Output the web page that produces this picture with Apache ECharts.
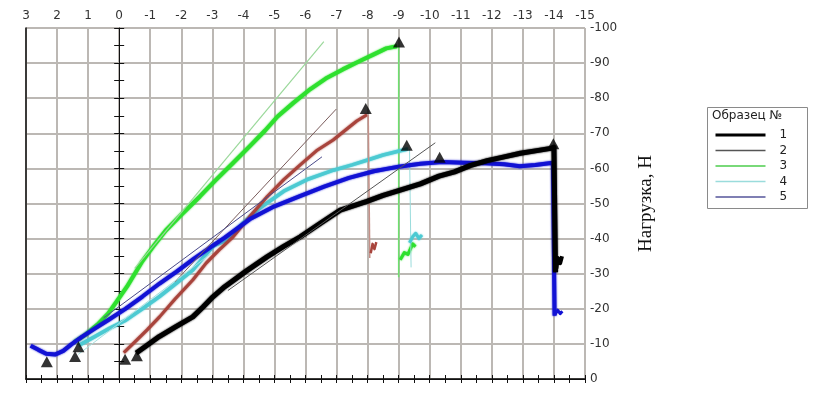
<!DOCTYPE html>
<html><head><meta charset="utf-8">
<script src="https://cdn.jsdelivr.net/npm/echarts@6/dist/echarts.min.js"></script>
<style>html,body{margin:0;padding:0;background:#fff}#c{width:817px;height:396px}</style>
</head><body><div id="c"></div>
<script>
// Axis ticks
const xTicksMin = -15, xTicksMax = 3;
const yTicksMin = -100, yTicksMax = 0;
const legendNames = ['1', '2', '3', '4', '5'];
const legendTitle = 'Образец №';
const yAxisTitle = 'Нагрузка, Н';

// Sample 1 (black)
const s1Rise = [[-0.55,-7.4],[-0.9,-9.6],[-1.29,-12.1],[-1.8,-14.8],[-2.37,-17.7],[-2.7,-20.5],[-3.02,-23.4],[-3.4,-26.3],[-4.1,-30.8],[-4.76,-34.8],[-5.3,-37.8],[-5.83,-40.5],[-6.5,-44.5],[-7.12,-48.1],[-7.98,-50.6],[-8.5,-52.3],[-9.05,-53.8],[-9.7,-55.6],[-10.3,-57.8],[-10.8,-59],[-11.3,-60.8],[-11.85,-62.2],[-12.4,-63.3],[-12.92,-64.3],[-13.4,-65],[-13.9,-65.7],[-14.0,-66],[-14.05,-30.4]];
const s1Tail = [[-14.08,-31.5],[-14.12,-34.5],[-14.2,-33],[-14.26,-35]];
// Sample 2 (red)
const s2Rise = [[-0.15,-7.5],[-0.5,-10.5],[-0.9,-14],[-1.3,-17.7],[-1.8,-22.8],[-2.37,-28.2],[-2.8,-33],[-3.22,-36.8],[-3.67,-40.5],[-4.2,-46.2],[-4.76,-51.9],[-5.3,-56.8],[-5.83,-61],[-6.35,-65],[-6.89,-68.1],[-7.3,-71],[-7.65,-73.5],[-7.98,-75.3]];
const s2Drop = [[-8.02,-75.3],[-8.07,-34.5]];
const s2Tail = [[-8.1,-35.8],[-8.16,-38.5],[-8.22,-37],[-8.28,-39]];
// Sample 3 (green)
const s3Rise = [[1.45,-10.5],[1.1,-12.5],[0.7,-15.5],[0.35,-18.7],[0.05,-22.5],[-0.25,-26.3],[-0.75,-33.6],[-1.1,-37.8],[-1.5,-42.3],[-2.0,-46.8],[-2.6,-52.0],[-3.1,-56.6],[-3.65,-61.4],[-4.2,-66.3],[-4.7,-70.8],[-5.1,-74.8],[-5.6,-78.6],[-6.1,-82.2],[-6.65,-85.6],[-7.2,-88.2],[-7.75,-90.6],[-8.2,-92.5],[-8.6,-94.2],[-8.95,-94.8]];
const s3Drop = [[-9.0,-95],[-9.0,-29]];
const s3Tail = [[-9.05,-34],[-9.18,-36],[-9.3,-35.5],[-9.45,-38.5],[-9.54,-37.7]];
// Sample 4 (cyan)
const s4Rise = [[1.3,-9.6],[0.8,-12],[0.3,-14.5],[-0.22,-16.8],[-0.75,-20],[-1.3,-23.5],[-1.8,-27],[-2.37,-31],[-2.75,-35],[-3.05,-38],[-3.45,-39.5],[-4.0,-44.5],[-4.5,-48.5],[-5.3,-53.5],[-6.1,-57],[-6.9,-59.5],[-7.5,-61],[-8.0,-62.4],[-8.5,-63.8],[-9.05,-65],[-9.3,-65.5]];
const s4Drop = [[-9.35,-65.5],[-9.4,-31.8]];
const s4Tail = [[-9.35,-38.8],[-9.45,-40.5],[-9.55,-41.5],[-9.65,-40],[-9.75,-41]];
// Sample 5 (blue)
const s5Rise = [[2.85,-9.5],[2.6,-8.3],[2.35,-7.2],[2.05,-7.0],[1.8,-8.0],[1.55,-9.8],[1.2,-12.0],[0.8,-14.3],[0.35,-16.8],[-0.2,-20.0],[-0.75,-23.5],[-1.3,-27.2],[-1.85,-30.6],[-2.4,-34.2],[-2.9,-37.3],[-3.4,-40.3],[-4.2,-45.5],[-5.0,-49.2],[-5.8,-52.0],[-6.6,-54.8],[-7.4,-57.3],[-8.2,-59.2],[-9.0,-60.5],[-9.7,-61.3],[-10.4,-61.8],[-11.1,-61.6],[-11.8,-61.5],[-12.4,-61.2],[-12.9,-60.6],[-13.4,-61.0],[-13.97,-61.6],[-14.02,-18]];
const s5Tail = [[-14.04,-18.5],[-14.12,-19.6],[-14.2,-18.6],[-14.27,-19.3]];
// Tangent lines (legend items)
const t1 = [[-3.5,-25.2],[-10.18,-67.3]];
const t2 = [[-1.8,-27.7],[-6.99,-76.9]];
const t3 = [[-0.5,-31.5],[-6.59,-96.1]];
const t4 = [[1.32,-7],[-3.0,-36]];
const t5 = [[0.5,-17.4],[-6.53,-63.3]];
// Start / peak markers
const markers = [[2.33,-4.9],[1.42,-6.4],[1.31,-9.2],[-0.19,-5.6],[-0.57,-6.6],[-9.01,-96],[-7.94,-77.1],[-9.26,-66.6],[-10.32,-63.2],[-13.98,-67]];

const chart = echarts.init(document.getElementById('c'), null, {renderer:'canvas'});
const font = 'DejaVu Sans';
function line(name, data, color, width, z, blur){
  const ls = {color, width, join:'round'};
  if (blur) { ls.shadowColor = color; ls.shadowBlur = blur; }
  return {name, type:'line', data, symbol:'none', showSymbol:false, z:z||2,
    lineStyle:ls, itemStyle:{color}, silent:true, animation:false};
}
const baseX = {type:'value', min:xTicksMin, max:xTicksMax, interval:1, inverse:true};
const baseY = {type:'value', min:yTicksMin, max:yTicksMax, interval:10, inverse:true};
const legendStyles = [
  {width:3, color:'#000'}, {width:1.3, color:'#555'}, {width:1.3, color:'#4ccc4c'},
  {width:1.3, color:'#9adcdc'}, {width:1.3, color:'#55559a'}
];
chart.setOption({
  animation:false,
  backgroundColor:'#fff',
  grid:{left:26, right:232, top:28, bottom:17, containLabel:false},
  xAxis:[
    Object.assign({}, baseX, {position:'top',
      axisLine:{show:true, lineStyle:{color:'#111', width:1}},
      axisTick:{show:true, length:4, lineStyle:{color:'#111'}},
      minorTick:{show:true, splitNumber:2, length:4, lineStyle:{color:'#111'}},
      splitLine:{show:true, lineStyle:{color:'#bcb8b4', width:2}},
      axisLabel:{fontFamily:font, fontSize:12, color:'#333', margin:6}}),
    Object.assign({}, baseX, {position:'bottom',
      axisLine:{show:true, onZero:false, lineStyle:{color:'#111', width:1.5}},
      axisTick:{show:false}, axisLabel:{show:false}, splitLine:{show:false}}),
    Object.assign({}, baseX, {position:'top',
      axisLine:{show:false}, axisTick:{show:true, inside:true, length:4, lineStyle:{color:'#111'}},
      minorTick:{show:true, splitNumber:2, length:4, lineStyle:{color:'#111'}},
      axisLabel:{show:false}, splitLine:{show:false}})
  ],
  yAxis:[
    Object.assign({}, baseY, {position:'right', name:yAxisTitle, nameLocation:'middle', nameRotate:90, nameGap:52,
      nameTextStyle:{fontFamily:'Liberation Serif', fontSize:19, color:'#111'},
      axisLine:{show:true, lineStyle:{color:'#111', width:1}},
      axisTick:{show:true, length:5, lineStyle:{color:'#111'}},
      minorTick:{show:true, splitNumber:2, length:5, lineStyle:{color:'#111'}},
      splitLine:{show:true, lineStyle:{color:'#bcb8b4', width:2}},
      axisLabel:{fontFamily:font, fontSize:12, color:'#333', margin:5}}),
    Object.assign({}, baseY, {position:'left',
      axisLine:{show:true, onZero:false, lineStyle:{color:'#111', width:1.5}},
      axisTick:{show:false}, axisLabel:{show:false}, splitLine:{show:false}}),
    Object.assign({}, baseY, {position:'right',
      axisLine:{show:false}, axisTick:{show:true, inside:true, length:5, lineStyle:{color:'#111'}},
      minorTick:{show:true, splitNumber:2, length:5, lineStyle:{color:'#111'}},
      axisLabel:{show:false}, splitLine:{show:false}})
  ],
  legend:{
    data: legendNames.map((n, i) => ({name:n, lineStyle:legendStyles[i], itemStyle:{opacity:0, color:'transparent', borderColor:'transparent'}})),
    orient:'vertical', left:709, top:124, itemWidth:50, itemHeight:12, itemGap:3.5,
    itemStyle:{opacity:0, color:'transparent', borderColor:'transparent', borderWidth:0},
    textStyle:{fontFamily:font, fontSize:12, color:'#222', padding:[0,0,0,9]},
    selectedMode:false, inactiveColor:'#000'
  },
  graphic:[
    {type:'rect', left:705, top:105, shape:{width:100, height:101}, style:{fill:'none', stroke:'#8a8a8a', lineWidth:1}},
    {type:'text', left:712, top:110, style:{text:legendTitle, font:'12px "DejaVu Sans"', fill:'#222'}}
  ],
  series:[
    line('s3', s3Rise, '#2ee02e', 4, 3, 2), line('s3d', s3Drop, '#6ee06e', 1.5, 3), line('s3t', s3Tail, '#2ee02e', 3, 3, 2),
    line('s4', s4Rise, '#4ccad2', 3.6, 4, 2), line('s4d', s4Drop, '#9adcdc', 1, 4), line('s4t', s4Tail, '#4ccad2', 3, 4, 2),
    line('s2', s2Rise, '#a8443c', 3, 5, 2), line('s2d', s2Drop, '#c49088', 1.5, 5), line('s2t', s2Tail, '#a8443c', 2.5, 5),
    line('s5', s5Rise, '#1212d4', 4, 6, 2), line('s5t', s5Tail, '#1212d4', 3, 6),
    line('s1', s1Rise, '#000000', 5, 7, 2), line('s1t', s1Tail, '#000000', 4, 7),
    line('1', t1, '#555555', 1, 8), line('2', t2, '#7a5c5c', 1, 8), line('3', t3, '#9ad89a', 1.2, 8),
    line('4', t4, '#a8e0e0', 1, 8), line('5', t5, '#4a4a8a', 1, 8),
    {name:'markers', type:'scatter', data:markers, symbol:'triangle', symbolSize:[12,11],
     itemStyle:{color:'#000'}, z:10, silent:true, animation:false}
  ]
});
</script></body></html>
